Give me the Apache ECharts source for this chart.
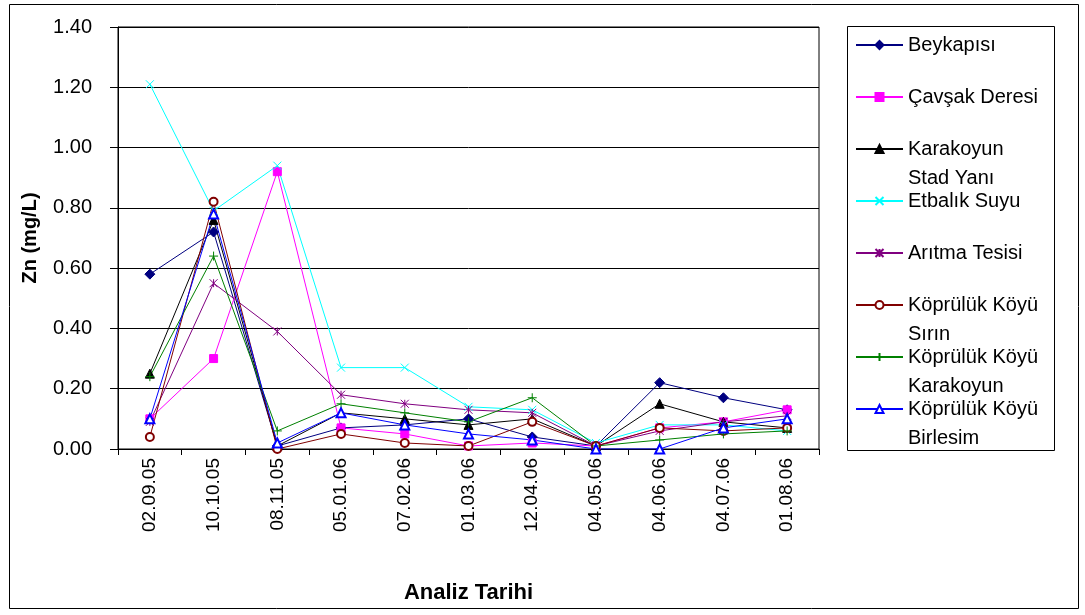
<!DOCTYPE html>
<html>
<head>
<meta charset="utf-8">
<script src="https://cdn.jsdelivr.net/npm/echarts@6/dist/echarts.min.js"></script>
<style>
  html, body { margin: 0; padding: 0; background: #fff; }
  #chart { width: 1085px; height: 615px; }
</style>
</head>
<body>
<div id="chart"></div>
<script>
// Sampling dates (Analiz Tarihi)
const categories = ['02.09.05', '10.10.05', '08.11.05', '05.01.06', '07.02.06', '01.03.06',
                    '12.04.06', '04.05.06', '04.06.06', '04.07.06', '01.08.06'];

// Zn concentrations, mg/L, one array per sampling station
const beykapisi     = [0.58, 0.72, 0.01, 0.07, 0.08, 0.10, 0.04, 0.01, 0.22, 0.17, 0.13];
const cavsakDeresi  = [0.10, 0.30, 0.92, 0.07, 0.05, 0.01, 0.02, 0.01, 0.07, 0.09, 0.13];
const karakoyunStad = [0.25, 0.76, 0.01, 0.12, 0.10, 0.08, 0.10, 0.01, 0.15, 0.09, 0.07];
const etbalikSuyu   = [1.21, 0.79, 0.94, 0.27, 0.27, 0.14, 0.13, 0.02, 0.08, 0.08, 0.06];
const aritmaTesisi  = [0.09, 0.55, 0.39, 0.18, 0.15, 0.13, 0.12, 0.01, 0.06, 0.09, 0.11];
const kkSirin       = [0.04, 0.82, 0.00, 0.05, 0.02, 0.01, 0.09, 0.01, 0.07, 0.06, 0.07];
const kkKarakoyun   = [0.24, 0.64, 0.06, 0.15, 0.12, 0.09, 0.17, 0.01, 0.03, 0.05, 0.06];
const kkBirlesim    = [0.10, 0.78, 0.02, 0.12, 0.08, 0.05, 0.03, 0.00, 0.00, 0.07, 0.10];

// Y-axis ticks
const yMin = 0, yMax = 1.4, yStep = 0.2;

const FONT = "'Liberation Sans', Arial, sans-serif";

// Marker outlines for the stroke-only symbols
const CROSS = 'path://M0,0L10,10M10,0L0,10';
const ASTERISK = 'path://M0,0L10,10M10,0L0,10M5,0L5,10';
const PLUS = 'path://M5,0L5,10M0,5L10,5';

// Station definitions: series name, legend text, colour, marker, data
const stations = [
  { name: 'Beykapısı', label: 'Beykapısı', color: '#000080', symbol: 'diamond', size: 10, data: beykapisi },
  { name: 'Çavşak Deresi', label: 'Çavşak Deresi', color: '#FF00FF', symbol: 'rect', size: 8, data: cavsakDeresi },
  { name: 'Karakoyun Stad Yanı', label: 'Karakoyun\nStad Yanı', color: '#000000', symbol: 'triangle', size: 9, data: karakoyunStad },
  { name: 'Etbalık Suyu', label: 'Etbalık Suyu', color: '#00FFFF', symbol: CROSS, size: 8, data: etbalikSuyu },
  { name: 'Arıtma Tesisi', label: 'Arıtma Tesisi', color: '#800080', symbol: ASTERISK, size: 8, data: aritmaTesisi },
  { name: 'Köprülük Köyü Sırın', label: 'Köprülük Köyü\nSırın', color: '#800000', symbol: 'emptyCircle', size: 8, data: kkSirin },
  { name: 'Köprülük Köyü Karakoyun', label: 'Köprülük Köyü\nKarakoyun', color: '#008000', symbol: PLUS, size: 9, data: kkKarakoyun },
  { name: 'Köprülük Köyü Birlesim', label: 'Köprülük Köyü\nBirlesim', color: '#0000FF', symbol: 'emptyTriangle', size: 9, data: kkBirlesim }
];

const series = stations.map(s => ({
  name: s.name,
  type: 'line',
  data: s.data,
  symbol: s.symbol,
  symbolSize: s.size,
  showAllSymbol: true,
  lineStyle: { color: s.color, width: 1 },
  itemStyle: { color: s.color, borderColor: s.color, borderWidth: 1 },
  emphasis: { disabled: true }
}));

// One legend block per station so every row sits on a fixed pitch;
// two-line names get a blank first line so the marker lines up with the first text line.
const LINE_H = 29;
const legends = stations.map((s, i) => {
  const twoLine = s.label.indexOf('\n') >= 0;
  const h = twoLine ? LINE_H * 3 : LINE_H;
  const cy = 45 + i * 52;
  return {
    data: [s.name],
    orient: 'vertical',
    left: 855,
    top: cy - h / 2,
    padding: 0,
    itemWidth: 47,
    itemHeight: 10,
    itemGap: 5,
    selectedMode: false,
    formatter: () => (twoLine ? ' \n' + s.label : s.label),
    textStyle: { fontFamily: FONT, fontSize: 20, color: '#000', lineHeight: LINE_H }
  };
});

const option = {
  animation: false,
  backgroundColor: '#fff',
  grid: {
    left: 118, right: 266, top: 27, bottom: 166,
    show: true, borderColor: '#000', borderWidth: 1, backgroundColor: 'transparent'
  },
  xAxis: {
    type: 'category',
    data: categories,
    boundaryGap: true,
    name: 'Analiz Tarihi',
    nameLocation: 'middle',
    nameGap: 133,
    nameTextStyle: { fontFamily: FONT, fontSize: 22, fontWeight: 'bold', color: '#000' },
    axisLine: { show: true, lineStyle: { color: '#000', width: 1 } },
    axisTick: { show: true, length: 6, lineStyle: { color: '#000' } },
    axisLabel: { rotate: 90, margin: 9, fontFamily: FONT, fontSize: 19, color: '#000', interval: 0 },
    splitLine: { show: false }
  },
  yAxis: {
    type: 'value',
    min: yMin, max: yMax, interval: yStep,
    name: 'Zn (mg/L)',
    nameLocation: 'middle',
    nameGap: 78,
    nameTextStyle: { fontFamily: FONT, fontSize: 20, fontWeight: 'bold', color: '#000' },
    axisLine: { show: true, lineStyle: { color: '#000', width: 1 } },
    axisTick: { show: true, length: 8, lineStyle: { color: '#000' } },
    axisLabel: {
      margin: 26, fontFamily: FONT, fontSize: 20, color: '#000',
      formatter: v => v.toFixed(2)
    },
    splitLine: { show: true, lineStyle: { color: '#000', width: 1 } }
  },
  legend: legends,
  graphic: [
    { type: 'rect', silent: true, z: -1,
      shape: { x: 9.5, y: 4.5, width: 1069, height: 604 },
      style: { fill: 'none', stroke: '#000', lineWidth: 1 } },
    { type: 'rect', silent: true, z: -1,
      shape: { x: 847.5, y: 26.5, width: 207, height: 424 },
      style: { fill: 'none', stroke: '#000', lineWidth: 1 } }
  ],
  series: series
};

const chart = echarts.init(document.getElementById('chart'), null, { renderer: 'canvas' });
chart.setOption(option);
</script>
</body>
</html>
